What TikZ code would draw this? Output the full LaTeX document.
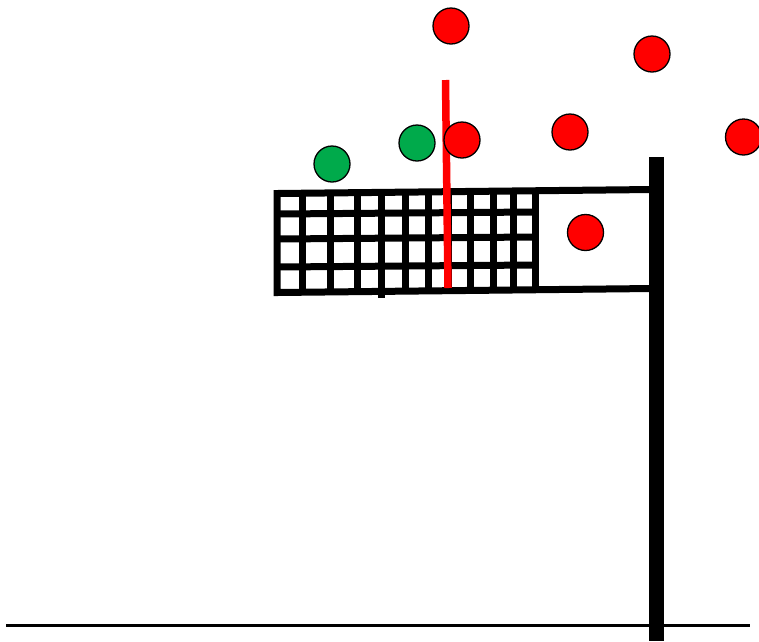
\documentclass[tikz,border=0pt]{standalone}
\definecolor{ballred}{RGB}{255,0,0}
\definecolor{ballgreen}{RGB}{0,170,75}
\begin{document}
\begin{tikzpicture}[x=1pt,y=-1pt,
  netline/.style={line width=7pt,black},
  ball/.style={circle,draw=black,line width=1.3pt,minimum size=36pt,inner sep=0pt},
  redball/.style={ball,fill=ballred},
  greenball/.style={ball,fill=ballgreen}]
\useasboundingbox (0,0) rectangle (759,641);
% ground
\draw[line width=3pt] (6,625) -- (750,625);
% pole
\fill (649,157) rectangle (664,641);
% net frame
\draw[netline,line join=miter] (652,189.5) -- (277,193.5) -- (277,292.5) -- (652,288.5);
\draw[netline] (535,191) -- (535,291);
\foreach \ya/\yb in {214/212,239/237,267/265}
  \draw[netline] (277,\ya) -- (535,\yb);
\foreach \x in {302,330,405,428,448,470,493,513}
  \draw[netline] (\x,193) -- (\x,292);
\draw[netline] (357,193) -- (357,291);
\draw[netline] (381,192) -- (381,298);
% red marker line
\draw[line width=7.5pt,ballred] (445.5,80) -- (448,288);
% balls
\node[redball] (r1) at (451,26) {};
\node[redball] (r2) at (652,54) {};
\node[redball] (r3) at (570,132) {};
\node[redball] (r4) at (743.5,137) {};
\node[redball] (r5) at (462,140) {};
\node[redball] (r6) at (585.5,232.5) {};
\node[greenball] (g1) at (332,164) {};
\node[greenball] (g2) at (417,143) {};
\end{tikzpicture}
\end{document}
